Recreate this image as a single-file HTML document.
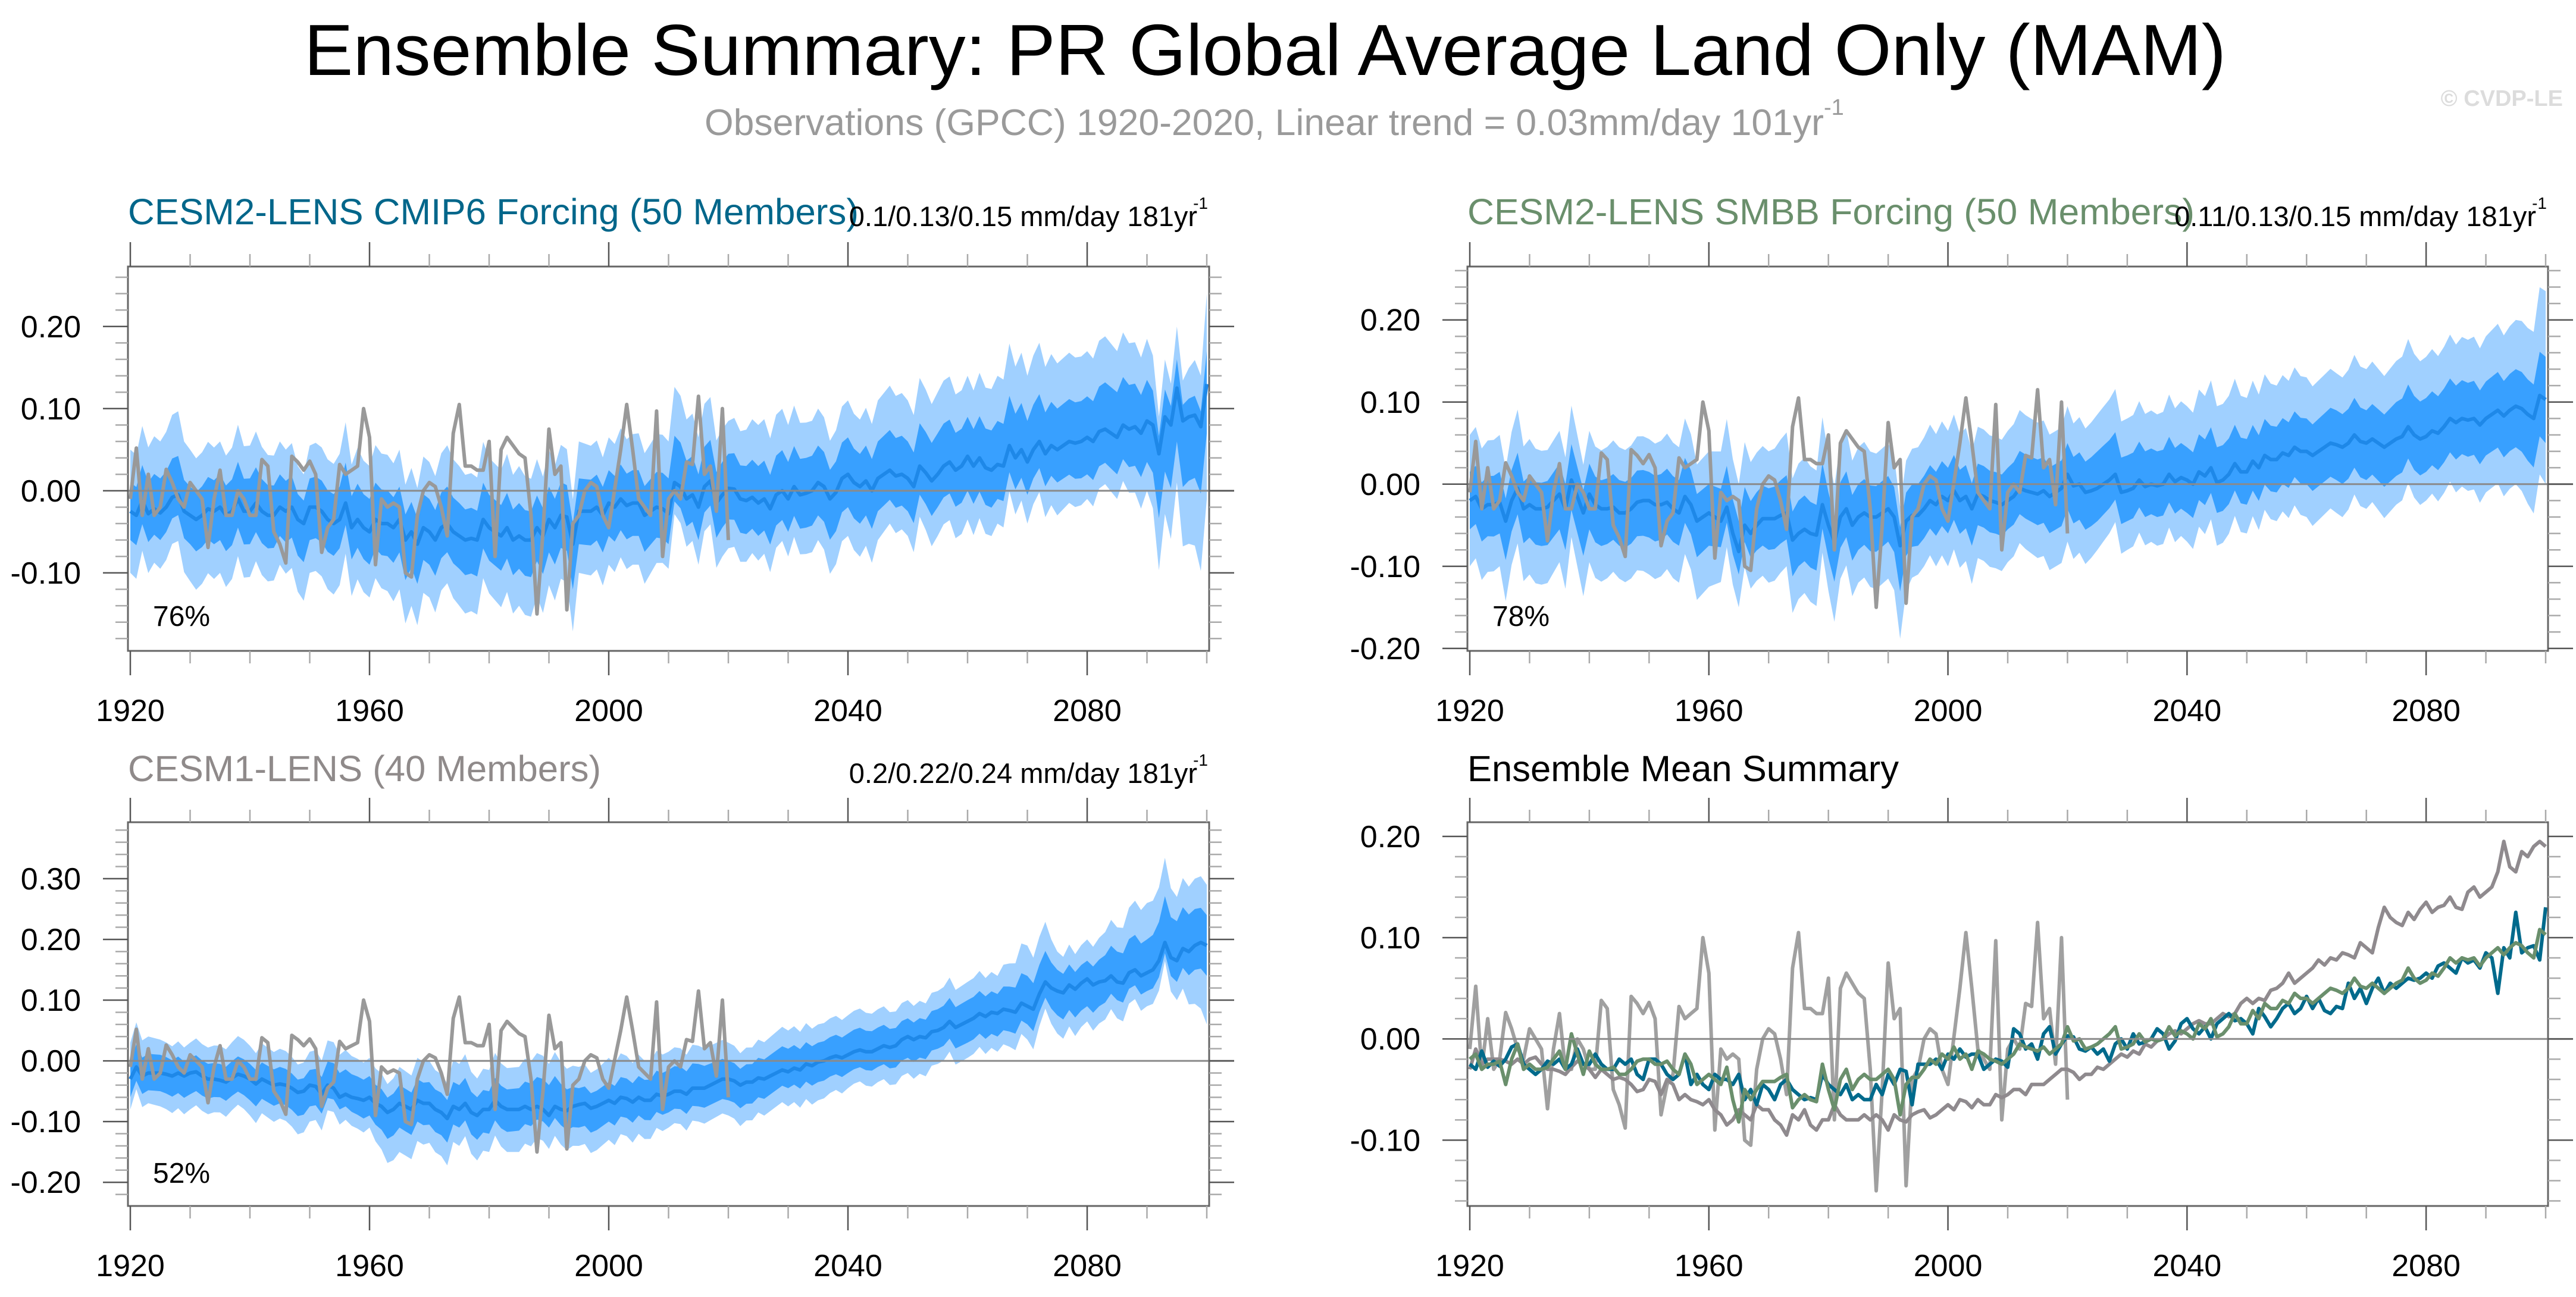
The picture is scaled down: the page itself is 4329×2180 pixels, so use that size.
<!DOCTYPE html>
<html><head><meta charset="utf-8"><title>Ensemble Summary: PR Global Average Land Only (MAM)</title>
<style>html,body{margin:0;padding:0;background:#fff}svg{display:block}text{font-family:"Liberation Sans",Arial,sans-serif}</style>
</head><body>
<svg id="chart" xmlns="http://www.w3.org/2000/svg" width="4329" height="2180" viewBox="0 0 4329 2180">
<rect width="4329" height="2180" fill="#fff"/>
<text x="511" y="126" font-size="122" textLength="3230" lengthAdjust="spacingAndGlyphs">Ensemble Summary: PR Global Average Land Only (MAM)</text>
<text x="1184" y="227" font-size="62" fill="#9a9a9a"><tspan textLength="1881" lengthAdjust="spacingAndGlyphs">Observations (GPCC) 1920-2020, Linear trend = 0.03mm/day 101yr</tspan><tspan font-size="38" dy="-34">-1</tspan></text>
<text x="4307" y="178" font-size="38" font-weight="bold" fill="#dcdcdc" text-anchor="end">© CVDP-LE</text>
<g id="panels"></g>
</svg>
<script>
// ---------------- data ----------------
const startYear = 1920;
const obsPR = [-0.01,0.052,-0.03,0.02,-0.03,-0.02,0.026,0.01,-0.01,-0.02,
0.01,0.0,-0.01,-0.069,-0.01,0.025,-0.03,-0.03,0.0,-0.01,
-0.03,-0.03,0.038,0.03,-0.05,-0.065,-0.088,0.042,0.035,0.025,
0.036,0.02,-0.075,-0.045,-0.035,0.032,0.02,0.025,0.03,0.1,
0.065,-0.09,-0.01,-0.02,-0.015,-0.02,-0.1,-0.105,-0.03,0.0,
0.01,0.005,-0.02,-0.055,0.07,0.105,0.03,0.03,0.025,0.025,
0.06,-0.08,0.05,0.065,0.055,0.045,0.04,-0.03,-0.15,-0.05,
0.075,0.02,0.03,-0.145,-0.04,-0.03,0.0,0.01,0.005,-0.03,
-0.045,0.002,0.05,0.105,0.05,-0.01,-0.02,-0.03,0.097,-0.08,
-0.01,0.0,-0.01,0.035,0.032,0.115,0.02,0.03,-0.025,0.1,-0.06];
const meanCMIP6 = [-0.025,-0.03,-0.012,-0.028,-0.022,-0.027,-0.02,-0.008,-0.005,-0.025,
-0.03,-0.035,-0.03,-0.022,-0.025,-0.02,-0.03,-0.025,-0.01,-0.025,
-0.025,-0.015,-0.025,-0.03,-0.03,-0.02,-0.025,-0.02,-0.035,-0.04,
-0.02,-0.02,-0.025,-0.035,-0.04,-0.035,-0.015,-0.045,-0.035,-0.045,
-0.05,-0.035,-0.04,-0.04,-0.045,-0.035,-0.06,-0.05,-0.065,-0.045,
-0.05,-0.06,-0.045,-0.04,-0.05,-0.055,-0.06,-0.058,-0.06,-0.035,
-0.045,-0.05,-0.055,-0.045,-0.06,-0.055,-0.06,-0.06,-0.045,-0.055,
-0.035,-0.045,-0.03,-0.032,-0.065,-0.025,-0.025,-0.025,-0.02,-0.03,
-0.015,-0.02,-0.01,-0.018,-0.015,-0.015,-0.03,-0.025,-0.02,-0.022,
-0.028,0.01,0.005,-0.01,-0.005,-0.02,0.005,0.012,-0.015,-0.005,
0.003,0.002,-0.01,-0.012,-0.008,-0.015,-0.01,-0.022,-0.005,0.0,
-0.01,0.005,-0.005,-0.003,0.0,0.01,0.005,-0.01,-0.002,0.015,
0.02,0.01,0.005,0.012,0.0,0.015,0.02,0.025,0.018,0.02,
0.015,0.005,0.03,0.022,0.012,0.02,0.03,0.035,0.025,0.03,
0.042,0.03,0.04,0.028,0.025,0.032,0.03,0.055,0.04,0.05,
0.035,0.05,0.06,0.045,0.055,0.05,0.055,0.06,0.058,0.06,
0.065,0.06,0.072,0.075,0.07,0.065,0.08,0.075,0.078,0.07,
0.085,0.08,0.045,0.09,0.08,0.125,0.085,0.09,0.092,0.078,0.13];
const meanSMBB = [-0.02,-0.015,-0.03,-0.025,-0.025,-0.022,-0.045,-0.02,-0.005,-0.03,
-0.025,-0.03,-0.03,-0.028,-0.02,-0.012,-0.03,0.005,-0.015,-0.035,
-0.012,-0.025,-0.03,-0.03,-0.028,-0.035,-0.035,-0.03,-0.022,-0.02,
-0.02,-0.025,-0.025,-0.022,-0.03,-0.035,-0.015,-0.025,-0.045,-0.04,
-0.035,-0.04,-0.045,-0.028,-0.06,-0.082,-0.05,-0.06,-0.05,-0.042,
-0.042,-0.042,-0.038,-0.035,-0.068,-0.06,-0.055,-0.06,-0.062,-0.025,
-0.05,-0.07,-0.04,-0.03,-0.05,-0.04,-0.035,-0.04,-0.04,-0.035,
-0.03,-0.04,-0.075,-0.045,-0.038,-0.038,-0.03,-0.02,-0.025,-0.015,
-0.02,-0.008,-0.02,-0.015,-0.03,-0.012,-0.015,-0.02,-0.022,-0.025,
-0.02,-0.015,-0.005,-0.008,-0.01,-0.012,-0.008,-0.015,-0.01,-0.005,
0.012,-0.002,0.0,-0.01,-0.008,-0.005,0.0,0.005,0.012,-0.01,
-0.008,-0.005,0.005,-0.003,0.0,-0.002,0.0,0.012,0.003,0.008,
0.005,0.0,0.015,0.01,0.02,0.002,0.005,0.012,0.025,0.015,
0.015,0.028,0.02,0.035,0.03,0.03,0.038,0.035,0.045,0.04,
0.04,0.035,0.04,0.045,0.05,0.048,0.045,0.05,0.06,0.052,
0.05,0.055,0.05,0.045,0.05,0.055,0.058,0.07,0.06,0.055,
0.058,0.065,0.062,0.07,0.08,0.075,0.08,0.078,0.08,0.072,
0.08,0.085,0.09,0.083,0.09,0.095,0.092,0.085,0.08,0.108,0.103];
const meanCESM1 = [-0.03,-0.01,-0.025,-0.02,-0.02,-0.02,-0.022,-0.025,-0.02,-0.025,
-0.02,-0.018,-0.025,-0.03,-0.03,-0.032,-0.035,-0.028,-0.022,-0.025,
-0.03,-0.038,-0.03,-0.035,-0.04,-0.038,-0.04,-0.045,-0.052,-0.05,
-0.04,-0.042,-0.055,-0.04,-0.045,-0.06,-0.055,-0.06,-0.062,-0.065,
-0.06,-0.07,-0.075,-0.085,-0.08,-0.07,-0.075,-0.08,-0.065,-0.07,
-0.07,-0.08,-0.085,-0.095,-0.075,-0.08,-0.07,-0.085,-0.09,-0.08,
-0.08,-0.065,-0.075,-0.08,-0.08,-0.08,-0.075,-0.08,-0.075,-0.08,
-0.09,-0.075,-0.08,-0.082,-0.075,-0.072,-0.07,-0.078,-0.075,-0.07,
-0.065,-0.07,-0.06,-0.062,-0.068,-0.06,-0.065,-0.065,-0.055,-0.058,
-0.055,-0.05,-0.05,-0.055,-0.045,-0.045,-0.045,-0.04,-0.035,-0.03,
-0.03,-0.033,-0.04,-0.035,-0.035,-0.028,-0.03,-0.025,-0.02,-0.015,
-0.018,-0.012,-0.015,-0.005,-0.008,-0.002,0.0,0.005,0.008,0.005,
0.01,0.015,0.018,0.015,0.015,0.02,0.025,0.022,0.025,0.035,
0.04,0.035,0.04,0.038,0.048,0.05,0.055,0.065,0.055,0.06,
0.065,0.07,0.078,0.073,0.08,0.078,0.085,0.083,0.08,0.095,
0.09,0.085,0.11,0.13,0.12,0.115,0.112,0.125,0.118,0.128,
0.135,0.125,0.13,0.132,0.14,0.13,0.128,0.145,0.15,0.14,
0.145,0.15,0.165,0.195,0.17,0.165,0.185,0.18,0.19,0.195,0.19];
// spread bands sampled every 5 years (1920..2100)
const bandStep = 5;
const cmip6InnerLo = [-0.06,-0.06,-0.065,-0.06,-0.065,-0.055,-0.06,-0.07,-0.09,-0.075,-0.09,-0.095,-0.085,-0.095,-0.075,-0.065,-0.055,-0.055,-0.065,-0.06,-0.035,-0.055,-0.05,-0.03,-0.02,-0.025,-0.025,-0.02,0.0,-0.01,-0.005,0.01,0.02,0.02,0.035,0.06,0.07];
const cmip6InnerHi = [0.01,0.015,0.005,0.02,0.015,0.02,0.015,0.005,-0.01,0.005,-0.01,-0.015,-0.005,-0.015,0.005,0.015,0.025,0.025,0.015,0.02,0.045,0.03,0.035,0.055,0.065,0.06,0.06,0.07,0.09,0.085,0.085,0.1,0.115,0.12,0.135,0.16,0.17];
const cmip6OuterLo = [-0.1,-0.095,-0.11,-0.1,-0.105,-0.09,-0.1,-0.115,-0.13,-0.12,-0.13,-0.14,-0.125,-0.14,-0.115,-0.1,-0.09,-0.09,-0.095,-0.09,-0.07,-0.085,-0.08,-0.06,-0.055,-0.06,-0.055,-0.055,-0.035,-0.04,-0.04,-0.03,-0.01,-0.01,0.0,0.01,-0.01];
const cmip6OuterHi = [0.05,0.06,0.05,0.06,0.055,0.06,0.055,0.045,0.03,0.05,0.035,0.03,0.04,0.03,0.05,0.06,0.065,0.07,0.06,0.065,0.085,0.08,0.08,0.1,0.11,0.11,0.11,0.12,0.14,0.14,0.14,0.155,0.17,0.17,0.185,0.2,0.24];
const smbbInnerLo = [-0.055,-0.06,-0.065,-0.055,-0.055,-0.075,-0.065,-0.075,-0.075,-0.11,-0.08,-0.1,-0.09,-0.08,-0.07,-0.075,-0.06,-0.05,-0.055,-0.05,-0.03,-0.045,-0.045,-0.04,-0.035,-0.035,-0.025,-0.01,0.0,0.005,0.005,0.01,0.015,0.03,0.035,0.045,0.05];
const smbbInnerHi = [0.015,0.015,0.01,0.025,0.025,0.005,0.015,0.005,0.0,-0.045,-0.005,-0.02,-0.01,0.0,0.01,0.0,0.02,0.025,0.02,0.03,0.05,0.04,0.035,0.04,0.045,0.045,0.055,0.07,0.08,0.09,0.09,0.1,0.105,0.12,0.125,0.14,0.155];
const smbbOuterLo = [-0.1,-0.1,-0.11,-0.095,-0.095,-0.115,-0.11,-0.12,-0.125,-0.15,-0.12,-0.14,-0.13,-0.12,-0.115,-0.11,-0.1,-0.09,-0.095,-0.09,-0.07,-0.08,-0.08,-0.075,-0.07,-0.075,-0.06,-0.045,-0.04,-0.035,-0.03,-0.025,-0.02,-0.01,-0.01,0.0,0.0];
const smbbOuterHi = [0.06,0.06,0.055,0.065,0.065,0.045,0.055,0.045,0.04,0.0,0.04,0.025,0.035,0.045,0.05,0.045,0.065,0.07,0.065,0.075,0.095,0.085,0.08,0.085,0.095,0.095,0.105,0.12,0.13,0.135,0.14,0.15,0.155,0.17,0.18,0.2,0.235];
const cesm1InnerLo = [-0.06,-0.05,-0.055,-0.06,-0.065,-0.07,-0.075,-0.08,-0.09,-0.11,-0.105,-0.11,-0.12,-0.115,-0.11,-0.11,-0.1,-0.09,-0.085,-0.075,-0.065,-0.06,-0.045,-0.035,-0.02,-0.01,0.005,0.02,0.03,0.04,0.06,0.075,0.09,0.1,0.115,0.13,0.14];
const cesm1InnerHi = [0.0,0.01,0.005,-0.005,-0.005,-0.01,-0.015,-0.02,-0.025,-0.04,-0.035,-0.04,-0.05,-0.045,-0.04,-0.045,-0.035,-0.025,-0.015,-0.005,0.0,0.005,0.02,0.03,0.045,0.055,0.07,0.085,0.1,0.11,0.14,0.15,0.165,0.18,0.2,0.23,0.24];
const cesm1OuterLo = [-0.08,-0.075,-0.08,-0.085,-0.09,-0.095,-0.1,-0.105,-0.11,-0.15,-0.135,-0.14,-0.15,-0.15,-0.145,-0.14,-0.13,-0.12,-0.11,-0.1,-0.09,-0.085,-0.075,-0.065,-0.045,-0.035,-0.02,-0.005,0.005,0.015,0.035,0.045,0.065,0.07,0.09,0.1,0.06];
const cesm1OuterHi = [0.03,0.035,0.03,0.025,0.025,0.02,0.015,0.01,0.005,-0.01,0.0,-0.005,-0.015,-0.01,-0.005,-0.01,0.005,0.01,0.015,0.025,0.03,0.035,0.05,0.06,0.075,0.085,0.1,0.115,0.13,0.14,0.19,0.18,0.2,0.22,0.26,0.27,0.29];
const pctLabels = ["76%","78%","52%"];
const xTickLabels = ["1920","1960","2000","2040","2080"];

// ---------------- drawing ----------------
const NS = "http://www.w3.org/2000/svg";
const root = document.getElementById("panels");
function mk(tag, attrs, parent){
  const e = document.createElementNS(NS, tag);
  for (const k in attrs) e.setAttribute(k, attrs[k]);
  (parent||root).appendChild(e);
  return e;
}
function lerp5(arr, i){
  const f = i / bandStep, k = Math.min(Math.floor(f), arr.length-2), t = f - k;
  return arr[k]*(1-t) + arr[k+1]*t;
}
function panel(cfg){
  const g = mk("g", {});
  
  
  const L=cfg.left, R=cfg.right, T=cfg.top, B=cfg.bottom;
  const xs = yr => L + 4 + (yr - 1920) * (R - L - 8) / 180;
  const ys = v => B - (v - cfg.vmin) * (B - T) / (cfg.vmax - cfg.vmin);
  const clip = "clip-" + cfg.name;
  const cp = mk("clipPath", {id: clip}, g);
  mk("rect", {x:L, y:T, width:R-L, height:B-T}, cp);
  const plot = mk("g", {"clip-path":"url(#"+clip+")"}, g);
  // band edge per year: 5-yearly envelope plus the mean's yearly departure from its own 5-yr sampling
  function edge(arr, mean, i, amp){
    const m5 = mean.filter((_,j)=>j%bandStep===0);
    return lerp5(arr, i) + amp*(mean[i] - lerp5(m5, i));
  }
  function band(lo, hi, mean, color, nm, amp){
    let pts = [];
    for (let i=0;i<mean.length;i++) pts.push(xs(startYear+i).toFixed(1)+","+ys(edge(hi,mean,i,amp)).toFixed(1));
    for (let i=mean.length-1;i>=0;i--) pts.push(xs(startYear+i).toFixed(1)+","+ys(edge(lo,mean,i,amp)).toFixed(1));
    const p = mk("polygon", {points: pts.join(" "), fill: color}, plot);
    
    
  }
  function line(arr, color, w, nm){
    const pts = arr.map((v,i)=>xs(startYear+i).toFixed(1)+","+ys(v).toFixed(1)).join(" ");
    const p = mk("polyline", {points: pts, fill:"none", stroke: color, "stroke-width": w, "stroke-linejoin":"round"}, plot);
    
    
  }
  if (cfg.bands){
    band(cfg.bands[0], cfg.bands[1], cfg.bands[4], "#a0d0ff", "outer-spread-band", 1.8);
    band(cfg.bands[2], cfg.bands[3], cfg.bands[4], "#38a0ff", "inner-spread-band", 1.4);
  }
  const z = mk("line", {x1:L, x2:R+42, y1:ys(0), y2:ys(0), stroke:"#8a8a8a", "stroke-width":3}, g);
  
  
  cfg.lines.forEach(l => line(l[0], l[1], l[2], l[3]));
  const fr = mk("rect", {x:L, y:T, width:R-L, height:B-T, fill:"none", stroke:"#666", "stroke-width":3}, g);
  
  
  for (let yr=1920; yr<=2100; yr+=10){
    const major = (yr-1920)%40===0;
    const len = major?41:21, x = xs(yr);
    mk("line",{x1:x,x2:x,y1:T,y2:T-len,stroke:major?"#555":"#aaa","stroke-width":2.5},g);
    mk("line",{x1:x,x2:x,y1:B,y2:B+len,stroke:major?"#555":"#aaa","stroke-width":2.5},g);
  }
  xTickLabels.forEach(lbl=>{
    const t = mk("text",{x:xs(+lbl), y:B+118, "font-size":52, "text-anchor":"middle"}, g);
    t.textContent = lbl;
    
    
  });
  for (let k=Math.ceil(cfg.vmin/0.02-1e-6); k*0.02<=cfg.vmax+1e-9; k++){
    const v = k*0.02, y = ys(v);
    const major = Math.abs(Math.round(v*10)-v*10)<1e-6 && cfg.ylabels.indexOf(Math.round(v*10)/10)>=0;
    const len = major?42:21;
    mk("line",{x1:L,x2:L-len,y1:y,y2:y,stroke:major?"#555":"#aaa","stroke-width":2.5},g);
    mk("line",{x1:R,x2:R+len,y1:y,y2:y,stroke:major?"#555":"#aaa","stroke-width":2.5},g);
  }
  cfg.ylabels.forEach(v=>{
    const t = mk("text",{x:L-79, y:ys(v)+18, "font-size":52, "text-anchor":"end"}, g);
    t.textContent = v.toFixed(2);
    
    
  });
  const tt = mk("text",{x:L, y:cfg.titleY, "font-size":61, fill:cfg.titleColor}, g);
  tt.textContent = cfg.title;
  if (cfg.titleLen){ tt.setAttribute("textLength", cfg.titleLen); tt.setAttribute("lengthAdjust","spacingAndGlyphs"); }
  
  
  if (cfg.trend){
    const tr = mk("text",{x:R-20, y:cfg.titleY+3, "font-size":47, "text-anchor":"end"}, g);
    tr.textContent = cfg.trend;
    
    
    const sp = mk("text",{x:R-2, y:cfg.titleY-26, "font-size":28, "text-anchor":"end"}, g);
    sp.textContent = "-1";
    
    
  }
  if (cfg.pct){
    const pt = mk("text",{x:L+42, y:cfg.pctY, "font-size":48}, g);
    pt.textContent = cfg.pct;
    
    
  }
}
const obsC = "#999999";
panel({name:"panel-cesm2-cmip6", left:215, right:2032, top:448, bottom:1094, vmin:-0.195, vmax:0.273,
  ylabels:[-0.1,0,0.1,0.2], title:"CESM2-LENS CMIP6 Forcing (50 Members)", titleLen:1228, titleColor:"#00668a", titleY:377,
  trend:"0.1/0.13/0.15 mm/day 181yr", pct:pctLabels[0], pctY:1052,
  bands:[cmip6OuterLo, cmip6OuterHi, cmip6InnerLo, cmip6InnerHi, meanCMIP6],
  lines:[[meanCMIP6,"#1e88e8",6,"ensemble-mean-line"],[obsPR,obsC,6,"observations-line"]]});
panel({name:"panel-cesm2-smbb", left:2466, right:4282, top:448, bottom:1094, vmin:-0.203, vmax:0.265,
  ylabels:[-0.2,-0.1,0,0.1,0.2], title:"CESM2-LENS SMBB Forcing (50 Members)", titleLen:1222, titleColor:"#6a8f6c", titleY:377,
  trend:"0.11/0.13/0.15 mm/day 181yr", pct:pctLabels[1], pctY:1052,
  bands:[smbbOuterLo, smbbOuterHi, smbbInnerLo, smbbInnerHi, meanSMBB],
  lines:[[meanSMBB,"#1e88e8",6,"ensemble-mean-line"],[obsPR,obsC,6,"observations-line"]]});
panel({name:"panel-cesm1", left:215, right:2032, top:1382, bottom:2027, vmin:-0.239, vmax:0.393,
  ylabels:[-0.2,-0.1,0,0.1,0.2,0.3], title:"CESM1-LENS (40 Members)", titleLen:795, titleColor:"#8f8a8a", titleY:1313,
  trend:"0.2/0.22/0.24 mm/day 181yr", pct:pctLabels[2], pctY:1988,
  bands:[cesm1OuterLo, cesm1OuterHi, cesm1InnerLo, cesm1InnerHi, meanCESM1],
  lines:[[meanCESM1,"#1e88e8",6,"ensemble-mean-line"],[obsPR,obsC,6,"observations-line"]]});
panel({name:"panel-ensemble-mean-summary", left:2466, right:4282, top:1382, bottom:2027, vmin:-0.165, vmax:0.214,
  ylabels:[-0.1,0,0.1,0.2], title:"Ensemble Mean Summary", titleLen:725, titleColor:"#000", titleY:1313,
  lines:[[obsPR,"#a0a0a0",6,"observations-line"],[meanCESM1,"#8f8a8e",6,"cesm1-mean-line"],
         [meanCMIP6,"#006a8c",6,"cesm2-cmip6-mean-line"],[meanSMBB,"#6a8f6c",6,"cesm2-smbb-mean-line"]]});
</script>
</body></html>
